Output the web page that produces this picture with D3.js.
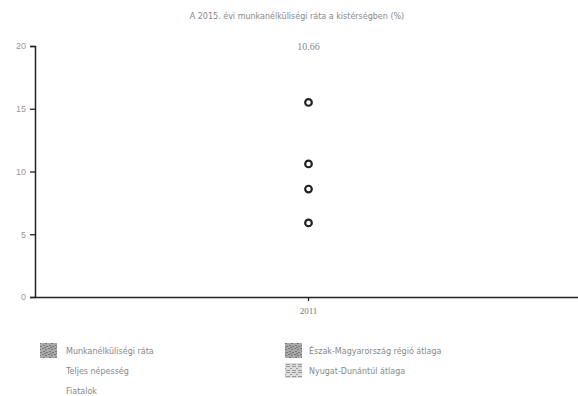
<!DOCTYPE html>
<html>
<head>
<meta charset="utf-8">
<script src="https://cdn.jsdelivr.net/npm/d3@7"></script>
<style>
  body { margin: 0; background: #fff; }
  svg { display: block; font-family: "DejaVu Sans", sans-serif; }
</style>
</head>
<body>
<svg width="578" height="396"></svg>
<script>
// data
const title = "A 2015. évi munkanélküliségi ráta a kistérségben (%)"
const years = ["2011"]
const pointValues = [15.5, 10.6, 8.6, 5.9]
const topLabel = "10.66"
const yTicks = [0, 5, 10, 15, 20]
const legendLeft = ["Munkanélküliségi ráta", "Teljes népesség", "Fiatalok"]
const legendRight = ["Észak-Magyarország régió átlaga", "Nyugat-Dunántúl átlaga"]

const svg = d3.select('svg')
const margin = {left: 35, right: -4, top: 46, bottom: 99}
const width = 578, height = 396

// patterns for the legend swatches
const defs = svg.append('defs')
function noisePattern(id, dark) {
  let p = defs.append('pattern').attr('id', id)
    .attr('width', 6).attr('height', 6).attr('patternUnits', 'userSpaceOnUse')
  p.append('rect').attr('width', 6).attr('height', 6).attr('fill', dark ? '#aaa' : '#ddd')
  // little blotches
  const cells = dark ? [[0,0],[3,1],[1,3],[4,4],[2,5]] : [[0,0],[2,2],[4,4],[0,4],[4,0]]
  cells.forEach(c => {
    p.append('rect').attr('x', c[0]).attr('y', c[1]).attr('width', 2).attr('height', 1)
      .attr('fill', dark ? '#777' : '#999')
  })
}
noisePattern('pat1', true)
noisePattern('pat2', true)
noisePattern('pat3', false)

const x = d3.scaleBand().domain(years).range([margin.left, width - margin.right])
const y = d3.scaleLinear().domain([0, 20]).range([height - margin.bottom, margin.top])

// title
svg.append('text')
  .attr('x', 297).attr('y', 19)
  .attr('text-anchor', 'middle')
  .style('font-size', '8px').style('fill', '#888')
  .text(title)

// y axis
let yAxis = svg.append('g')
  .attr('transform', `translate(${margin.left},0)`)
  .call(d3.axisLeft(y).tickValues(yTicks).tickSize(5).tickPadding(4))
yAxis.select('.domain').attr('stroke', '#222').attr('stroke-width', 1.5)
yAxis.selectAll('.tick line').attr('stroke', '#222').attr('stroke-width', 1.3)
yAxis.selectAll('.tick text').style('font-size', '9px').style('fill', '#999')

// x axis
let xAxis = svg.append('g')
  .attr('transform', `translate(0,${height - margin.bottom})`)
  .call(d3.axisBottom(x).tickSize(4).tickPadding(7).tickSizeOuter(0))
xAxis.select('.domain').attr('stroke', '#222').attr('stroke-width', 1.5)
xAxis.selectAll('.tick line').attr('stroke', '#222').attr('stroke-width', 1.3)
xAxis.selectAll('.tick text')
  .style('font-size', '9px').style('fill', '#777')
  .style('font-family', '"Liberation Serif", serif')

// points
const cx = x(years[0]) + x.bandwidth() / 2
svg.selectAll('circle.pt')
  .data(pointValues)
  .enter()
  .append('circle')
  .attr('class', 'pt')
  .attr('cx', cx)
  .attr('cy', d => y(d))
  .attr('r', 3.3)
  .attr('fill', '#fff')
  .attr('stroke', '#222')
  .attr('stroke-width', 2.2)

svg.append('text')
  .attr('x', cx).attr('y', 50)
  .attr('text-anchor', 'middle')
  .style('font-size', '10px').style('fill', '#888')
  .style('font-family', '"Liberation Serif", serif')
  .text(topLabel)

// legend
const legendRowY = d3.scaleLinear().domain([0, 1]).range([351, 371])
let left = svg.append('g')
left.selectAll('text')
  .data(legendLeft)
  .enter()
  .append('text')
  .attr('x', 66)
  .attr('y', (d, i) => legendRowY(i) + 3)
  .style('font-size', '8px').style('fill', '#888')
  .text(d => d)
left.append('rect')
  .attr('x', 40).attr('y', 343).attr('width', 17).attr('height', 15)
  .attr('fill', 'url(#pat1)')

let right = svg.append('g')
right.selectAll('text')
  .data(legendRight)
  .enter()
  .append('text')
  .attr('x', 309)
  .attr('y', (d, i) => legendRowY(i) + 3)
  .style('font-size', '8px').style('fill', '#888')
  .text(d => d)
right.selectAll('rect')
  .data(legendRight)
  .enter()
  .append('rect')
  .attr('x', 285)
  .attr('y', (d, i) => legendRowY(i) - 8)
  .attr('width', 17).attr('height', 15)
  .attr('fill', (d, i) => i == 0 ? 'url(#pat2)' : 'url(#pat3)')
</script>
</body>
</html>
